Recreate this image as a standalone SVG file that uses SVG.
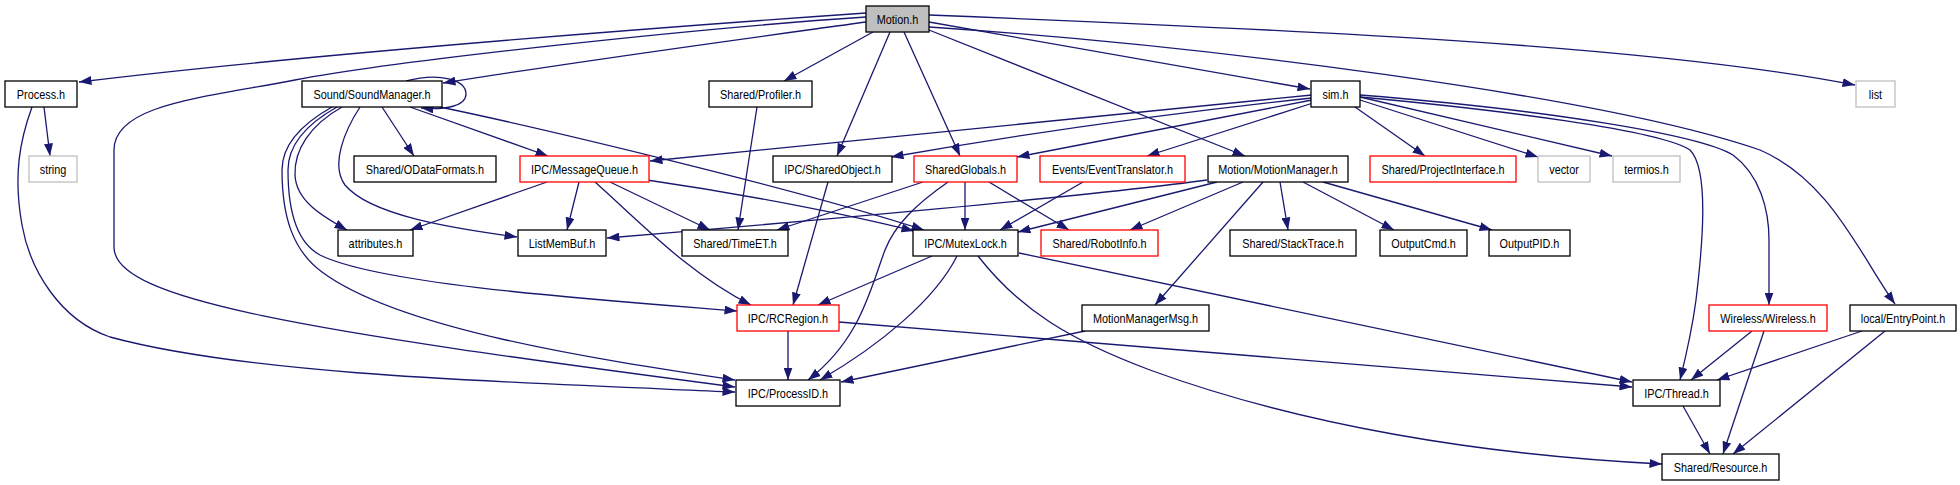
<svg xmlns="http://www.w3.org/2000/svg" width="1960" height="485" viewBox="0 0 1960 485">
<style>
.n rect{fill:#fff;stroke:#000;stroke-width:1.3}
.n.r rect{stroke:#ff0000}
.n.g rect{stroke:#bfbfbf}
.n.root rect{fill:#bfbfbf}
text{font-family:"Liberation Sans",Arial,Helvetica,sans-serif;font-size:12.5px;text-anchor:middle;fill:#000}
#edges path{fill:none;stroke:#191970;stroke-width:1.3;marker-end:url(#a)}
</style>
<defs>
<marker id="a" markerWidth="12.5" markerHeight="9" refX="12.5" refY="4.5" orient="auto" markerUnits="userSpaceOnUse"><path d="M0,0 L12.5,4.5 L0,9 z" fill="#191970"/></marker>
</defs>
<rect width="1960" height="485" fill="#fff"/>
<g id="edges">
<path d="M866,13 C650,28 300,55 79,82"/>
<path d="M866,17 C700,28 400,60 295,80 C200,98 114,105 114,150 L114,248 C116,300 300,330 735,387"/>
<path d="M866,22 C750,38 600,58 443,83"/>
<path d="M873,32 L784,81"/>
<path d="M890,32 L837,156"/>
<path d="M904,32 L960,156"/>
<path d="M929,30 L1245,156"/>
<path d="M929,22 L1310,89"/>
<path d="M929,15 C1300,30 1650,45 1855,85"/>
<path d="M929,27 C1200,45 1600,95 1760,150 C1830,180 1860,255 1895,304"/>
<path d="M406,81 C440,72 466,80 466,94 C466,106 446,110 421,108"/>
<path d="M382,107 L414,156"/>
<path d="M410,107 L548,156"/>
<path d="M440,107 C550,130 800,190 924,230"/>
<path d="M342,107 C310,125 294,150 295,175 C296,200 320,215 347,230"/>
<path d="M360,107 C345,130 330,165 345,185 C370,215 450,228 517,237"/>
<path d="M337,107 C305,125 288,145 288,170 C288,200 292,240 320,255 C380,285 600,300 737,311"/>
<path d="M332,107 C300,125 282,145 282,170 C282,215 292,250 322,272 C400,330 600,360 735,380"/>
<path d="M547,182 L410,230"/>
<path d="M579,182 L567,230"/>
<path d="M610,182 L710,230"/>
<path d="M595,182 C640,222 690,275 751,305"/>
<path d="M647,180 C750,195 850,215 914,231"/>
<path d="M757,107 L738,230"/>
<path d="M1312,95 L650,161"/>
<path d="M1312,98 C1150,115 1000,138 891,157"/>
<path d="M1312,100 L1017,157"/>
<path d="M1313,103 L1147,156"/>
<path d="M1355,107 L1425,156"/>
<path d="M1360,100 L1538,157"/>
<path d="M1360,97 L1612,156"/>
<path d="M1360,97 C1500,110 1660,130 1690,150 C1710,170 1702,250 1696,300 C1692,330 1685,360 1680,380"/>
<path d="M1360,95 C1550,110 1700,135 1733,155 C1760,175 1769,210 1769,240 L1769,305"/>
<path d="M1083,182 L1000,230"/>
<path d="M828,182 L793,305"/>
<path d="M923,182 L777,230"/>
<path d="M965,182 L965,230"/>
<path d="M989,182 L1069,230"/>
<path d="M948,182 C915,205 895,225 885,250 C870,290 860,340 808,380"/>
<path d="M1207,180 C1100,195 800,222 607,238"/>
<path d="M1217,182 L1018,232"/>
<path d="M1243,182 L1130,230"/>
<path d="M1263,182 L1155,305"/>
<path d="M1280,182 L1288,230"/>
<path d="M1303,182 L1394,230"/>
<path d="M1323,182 L1492,230"/>
<path d="M932,256 L818,305"/>
<path d="M957,256 C935,300 880,345 820,380"/>
<path d="M1019,253 L1632,382"/>
<path d="M978,256 C1020,310 1070,340 1150,370 C1300,425 1480,455 1662,464"/>
<path d="M788,331 L788,380"/>
<path d="M839,322 L1632,387"/>
<path d="M1085,331 L841,382"/>
<path d="M1752,331 L1691,380"/>
<path d="M1764,331 L1723,454"/>
<path d="M1862,331 L1717,380"/>
<path d="M1885,331 L1733,454"/>
<path d="M1683,406 L1710,454"/>
<path d="M44,107 L50,156"/>
<path d="M32,107 C20,140 13,175 22,225 C30,270 60,320 110,337 C250,375 500,382 735,392"/>
</g>
<g id="n_motion" class="n root"><rect x="866" y="6" width="63" height="26"/><text transform="translate(897.5 23.5) scale(0.87 1)">Motion.h</text></g>
<g id="n_process" class="n"><rect x="5" y="81" width="72" height="26"/><text transform="translate(41 98.5) scale(0.87 1)">Process.h</text></g>
<g id="n_sound" class="n"><rect x="302" y="81" width="140" height="26"/><text transform="translate(372 98.5) scale(0.87 1)">Sound/SoundManager.h</text></g>
<g id="n_profiler" class="n"><rect x="709" y="81" width="103" height="26"/><text transform="translate(760.5 98.5) scale(0.87 1)">Shared/Profiler.h</text></g>
<g id="n_sim" class="n"><rect x="1311" y="81" width="49" height="26"/><text transform="translate(1335.5 98.5) scale(0.87 1)">sim.h</text></g>
<g id="n_list" class="n g"><rect x="1856" y="81" width="39" height="26"/><text transform="translate(1875.5 98.5) scale(0.87 1)">list</text></g>
<g id="n_string" class="n g"><rect x="29" y="156" width="48" height="26"/><text transform="translate(53 173.5) scale(0.87 1)">string</text></g>
<g id="n_odata" class="n"><rect x="354" y="156" width="142" height="26"/><text transform="translate(425 173.5) scale(0.87 1)">Shared/ODataFormats.h</text></g>
<g id="n_mq" class="n r"><rect x="520" y="156" width="129" height="26"/><text transform="translate(584.5 173.5) scale(0.87 1)">IPC/MessageQueue.h</text></g>
<g id="n_shobj" class="n"><rect x="773" y="156" width="119" height="26"/><text transform="translate(832.5 173.5) scale(0.87 1)">IPC/SharedObject.h</text></g>
<g id="n_shglob" class="n r"><rect x="914" y="156" width="103" height="26"/><text transform="translate(965.5 173.5) scale(0.87 1)">SharedGlobals.h</text></g>
<g id="n_evt" class="n r"><rect x="1040" y="156" width="145" height="26"/><text transform="translate(1112.5 173.5) scale(0.87 1)">Events/EventTranslator.h</text></g>
<g id="n_mm" class="n"><rect x="1208" y="156" width="140" height="26"/><text transform="translate(1278 173.5) scale(0.87 1)">Motion/MotionManager.h</text></g>
<g id="n_proj" class="n r"><rect x="1370" y="156" width="146" height="26"/><text transform="translate(1443 173.5) scale(0.87 1)">Shared/ProjectInterface.h</text></g>
<g id="n_vector" class="n g"><rect x="1538" y="156" width="52" height="26"/><text transform="translate(1564 173.5) scale(0.87 1)">vector</text></g>
<g id="n_termios" class="n g"><rect x="1613" y="156" width="67" height="26"/><text transform="translate(1646.5 173.5) scale(0.87 1)">termios.h</text></g>
<g id="n_attr" class="n"><rect x="338" y="230" width="75" height="26"/><text transform="translate(375.5 247.5) scale(0.87 1)">attributes.h</text></g>
<g id="n_lmb" class="n"><rect x="518" y="230" width="88" height="26"/><text transform="translate(562 247.5) scale(0.87 1)">ListMemBuf.h</text></g>
<g id="n_timeet" class="n"><rect x="682" y="230" width="106" height="26"/><text transform="translate(735 247.5) scale(0.87 1)">Shared/TimeET.h</text></g>
<g id="n_mutex" class="n"><rect x="913" y="230" width="105" height="26"/><text transform="translate(965.5 247.5) scale(0.87 1)">IPC/MutexLock.h</text></g>
<g id="n_robot" class="n r"><rect x="1041" y="230" width="117" height="26"/><text transform="translate(1099.5 247.5) scale(0.87 1)">Shared/RobotInfo.h</text></g>
<g id="n_stack" class="n"><rect x="1230" y="230" width="126" height="26"/><text transform="translate(1293 247.5) scale(0.87 1)">Shared/StackTrace.h</text></g>
<g id="n_ocmd" class="n"><rect x="1380" y="230" width="87" height="26"/><text transform="translate(1423.5 247.5) scale(0.87 1)">OutputCmd.h</text></g>
<g id="n_opid" class="n"><rect x="1489" y="230" width="81" height="26"/><text transform="translate(1529.5 247.5) scale(0.87 1)">OutputPID.h</text></g>
<g id="n_rcr" class="n r"><rect x="737" y="305" width="102" height="26"/><text transform="translate(788 322.5) scale(0.87 1)">IPC/RCRegion.h</text></g>
<g id="n_mmm" class="n"><rect x="1082" y="305" width="127" height="26"/><text transform="translate(1145.5 322.5) scale(0.87 1)">MotionManagerMsg.h</text></g>
<g id="n_wl" class="n r"><rect x="1709" y="305" width="118" height="26"/><text transform="translate(1768 322.5) scale(0.87 1)">Wireless/Wireless.h</text></g>
<g id="n_ep" class="n"><rect x="1850" y="305" width="106" height="26"/><text transform="translate(1903 322.5) scale(0.87 1)">local/EntryPoint.h</text></g>
<g id="n_pid" class="n"><rect x="736" y="380" width="104" height="26"/><text transform="translate(788 397.5) scale(0.87 1)">IPC/ProcessID.h</text></g>
<g id="n_thread" class="n"><rect x="1633" y="380" width="87" height="26"/><text transform="translate(1676.5 397.5) scale(0.87 1)">IPC/Thread.h</text></g>
<g id="n_res" class="n"><rect x="1662" y="454" width="117" height="26"/><text transform="translate(1720.5 471.5) scale(0.87 1)">Shared/Resource.h</text></g>
</svg>
